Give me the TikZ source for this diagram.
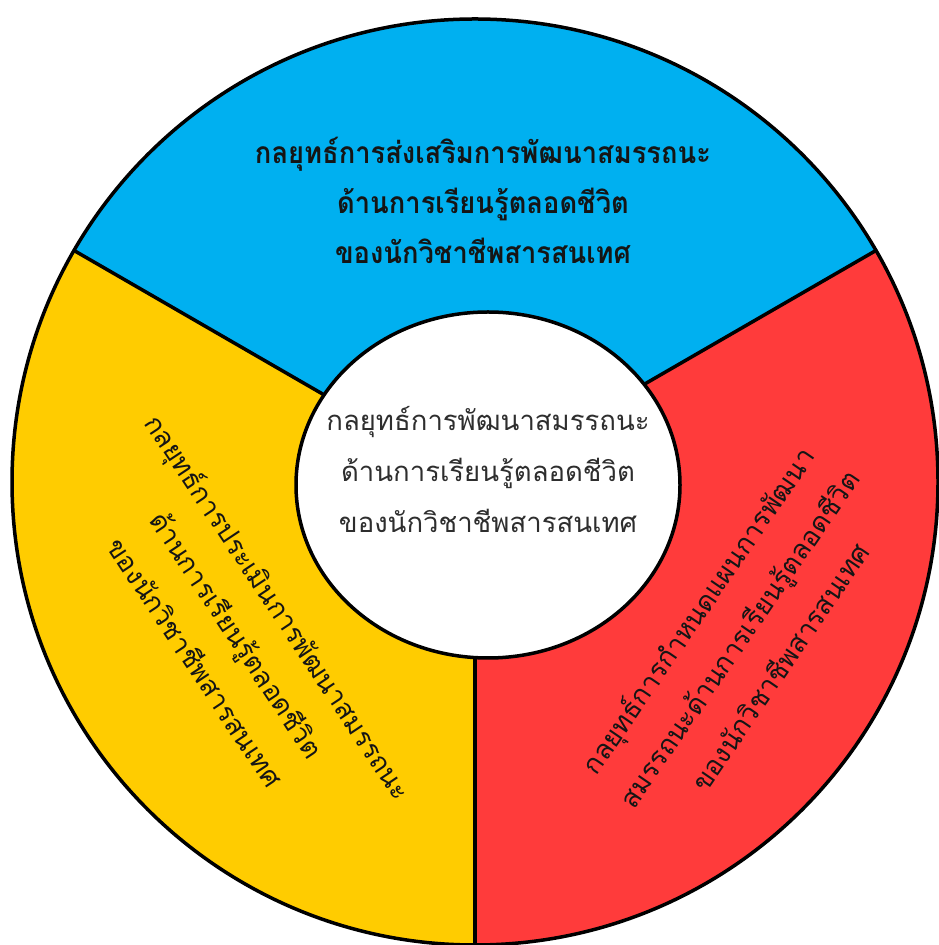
\documentclass[tikz,border=0pt]{standalone}
\usepackage{fontspec}
\usetikzlibrary{calc}
\newfontfamily\thaifont[Script=Thai]{Loma}
\definecolor{segblue}{HTML}{00B0F0}
\definecolor{segyellow}{HTML}{FFCC00}
\definecolor{segred}{HTML}{FF3B3B}
\definecolor{txtdark}{HTML}{151515}
\definecolor{txtcenter}{HTML}{2E2E2E}
\begin{document}
\begin{tikzpicture}[x=1pt,y=1pt,
  rim/.style={line width=3.5pt,line join=round},
  toplabel/.style={align=center,text=txtdark,xscale=0.91,font=\thaifont\bfseries\fontsize{30}{50}\selectfont},
  midlabel/.style={align=center,text=txtcenter,font=\thaifont\fontsize{27.5}{51}\selectfont},
  sidelabel/.style={align=center,text=txtdark,font=\thaifont\fontsize{27}{50}\selectfont}]
\useasboundingbox (0,0) rectangle (939,945);
\coordinate (C) at (475,463);
\coordinate (P30) at ($(C)+(30:463pt)$);
\coordinate (P150) at ($(C)+(150:463pt)$);
\coordinate (P270) at ($(C)+(270:463pt)$);
% sectors
\fill[segblue] (C) -- (P30) arc[start angle=30,end angle=150,radius=463pt] -- cycle;
\fill[segyellow] (C) -- (P150) arc[start angle=150,end angle=270,radius=463pt] -- cycle;
\fill[segred] (C) -- (P270) arc[start angle=270,end angle=390,radius=463pt] -- cycle;
% dividers
\draw[rim] (C) -- (P30);
\draw[rim] (C) -- (P150);
\draw[rim] (C) -- (P270);
\draw[rim] (C) circle[radius=463pt];
% centre disc
\draw[rim,fill=white] (488,460) ellipse[x radius=192pt,y radius=173pt];
% labels
\node[toplabel] (top) at (483,745) {กลยุทธ์การส่งเสริมการพัฒนาสมรรถนะ\\ด้านการเรียนรู้ตลอดชีวิต\\ของนักวิชาชีพสารสนเทศ};
\node[midlabel] (mid) at (488,475) {กลยุทธ์การพัฒนาสมรรถนะ\\ด้านการเรียนรู้ตลอดชีวิต\\ของนักวิชาชีพสารสนเทศ};
\node[sidelabel,rotate=-56.4] (left) at (238,311) {กลยุทธ์การประเมินการพัฒนาสมรรถนะ\\ด้านการเรียนรู้ตลอดชีวิต\\ของนักวิชาชีพสารสนเทศ};
\node[sidelabel,rotate=55.6] (right) at (738,307) {กลยุทธ์การกำหนดแผนการพัฒนา\\สมรรถนะด้านการเรียนรู้ตลอดชีวิต\\ของนักวิชาชีพสารสนเทศ};
\end{tikzpicture}
\end{document}
